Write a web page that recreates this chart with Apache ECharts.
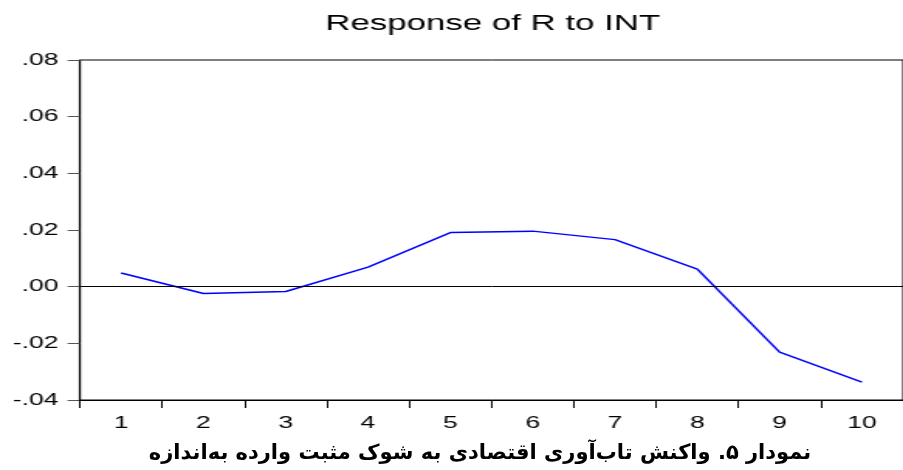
<!DOCTYPE html>
<html>
<head>
<meta charset="utf-8">
<script src="https://cdn.jsdelivr.net/npm/echarts@6/dist/echarts.min.js"></script>
<style>
  html, body { margin: 0; padding: 0; background: #fff; overflow: hidden; }
  #wrap { position: relative; width: 903px; height: 470px; }
  /* the source picture is stretched sideways, so the chart is drawn narrow and widened */
  #main { position: absolute; left: 0; top: 0; width: 583px; height: 470px;
          transform: scaleX(1.549); transform-origin: 0 0; }
  #caption { position: absolute; left: 0; width: 960px; top: 440px; text-align: center;
             font-family: "DejaVu Sans", sans-serif; font-weight: bold; font-size: 21px;
             line-height: 24px; color: #000; }
</style>
</head>
<body>
<div id="wrap">
  <div id="main"></div>
  <div id="caption" dir="rtl">نمودار ۵. واکنش تاب‌آوری اقتصادی به شوک مثبت وارده به‌اندازه</div>
</div>
<script>
var periods = ["1", "2", "3", "4", "5", "6", "7", "8", "9", "10"];
var response = [0.0048, -0.0024, -0.0017, 0.0069, 0.0191, 0.0196, 0.0166, 0.0062, -0.0231, -0.0337];
var titleText = "Response of R to INT";

var myChart = echarts.init(document.getElementById("main"));

function tickLabel(v) {
  var s = Math.abs(v).toFixed(2).replace(/^0/, "");
  return (v < -1e-9 ? "-" : "") + s;
}

var option = {
  animation: false,
  title: {
    text: titleText,
    left: 205,
    top: 7,
    textStyle: {
      fontFamily: "Liberation Sans",
      fontWeight: "normal",
      fontSize: 22.5,
      color: "#000",
    },
  },
  grid: {
    left: 51.6,
    right: -6,
    top: 60,
    bottom: 70,
    show: true,
    borderColor: "#000",
    borderWidth: 1,
    backgroundColor: "#fff",
  },
  xAxis: {
    type: "category",
    data: periods,
    boundaryGap: true,
    axisLine: { onZero: false, lineStyle: { color: "#000", width: 1.2 } },
    axisTick: { show: true, inside: false, length: 8, lineStyle: { color: "#000" } },
    axisLabel: {
      margin: 15,
      color: "#000",
      fontFamily: "Liberation Sans",
      fontSize: 17,
    },
    splitLine: { show: false },
  },
  yAxis: {
    type: "value",
    min: -0.04,
    max: 0.08,
    interval: 0.02,
    axisLine: { show: true, onZero: false, lineStyle: { color: "#000", width: 1.2 } },
    axisTick: { show: true, length: 8, lineStyle: { color: "#555" } },
    axisLabel: {
      margin: 14,
      color: "#000",
      fontFamily: "Liberation Sans",
      fontSize: 17,
      formatter: tickLabel,
    },
    splitLine: { show: false },
  },
  series: [
    {
      type: "line",
      data: response,
      symbol: "none",
      lineStyle: { color: "#0000ff", width: 1.5 },
      markLine: {
        silent: true,
        symbol: "none",
        label: { show: false },
        lineStyle: { color: "#000", width: 1, type: "solid" },
        data: [{ yAxis: 0 }],
      },
    },
  ],
};

myChart.setOption(option);
</script>
</body>
</html>
